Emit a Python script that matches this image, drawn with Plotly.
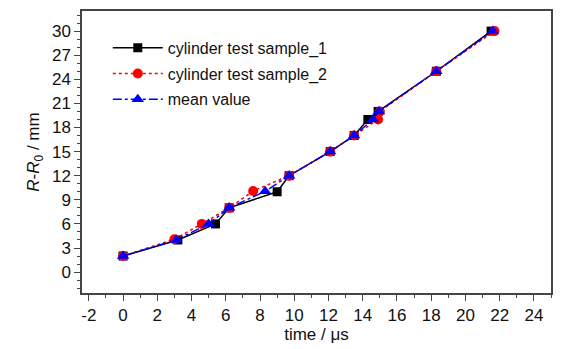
import plotly.graph_objects as go

# Data
s1_x = [0, 3.2, 5.4, 6.2, 9.0, 9.7, 12.1, 13.5, 14.3, 14.9, 18.3, 21.5]
s1_y = [2, 4, 6, 8, 10, 12, 15, 17, 19, 20, 25, 30]
s2_x = [0, 3.0, 4.6, 6.2, 7.6, 9.7, 12.1, 13.5, 14.9, 15.0, 18.3, 21.7]
s2_y = [2, 4.1, 6, 8, 10.1, 12, 15, 17, 19, 20, 25, 30]
m_x = [0, 3.1, 5.0, 6.2, 8.3, 9.7, 12.1, 13.5, 14.6, 14.95, 18.3, 21.6]
m_y = [2, 4, 6, 8, 10.05, 12, 15, 17, 19, 20, 25, 30]

x_ticks = list(range(-2, 25, 2))
x_tick_labels = [str(v) for v in x_ticks]
y_ticks = list(range(0, 31, 3))
y_tick_labels = [str(v) for v in y_ticks]

font_family = "Liberation Sans, Arial, sans-serif"

fig = go.Figure()
fig.add_trace(go.Scatter(x=s1_x, y=s1_y, mode="lines+markers", name="cylinder test sample_1",
                         legendgroup="g1",
                         line=dict(color="black", width=1.5, dash="solid"),
                         marker=dict(symbol="square", size=9, color="black")))
fig.add_trace(go.Scatter(x=s2_x, y=s2_y, mode="lines+markers", name="cylinder test sample_2",
                         legendgroup="g2",
                         line=dict(color="red", width=1.5, dash="dot"),
                         marker=dict(symbol="circle", size=10, color="red")))
fig.add_trace(go.Scatter(x=m_x, y=m_y, mode="lines+markers", name="mean value",
                         legendgroup="g3",
                         line=dict(color="blue", width=1.5, dash="dashdot"),
                         marker=dict(symbol="triangle-up", size=11, color="blue")))

axis_common = dict(showgrid=False, zeroline=False, showline=True, linecolor="#444",
                   linewidth=1.5, mirror=True, ticks="outside", ticklen=6, tickwidth=1.2,
                   tickcolor="#444", automargin=False,
                   tickfont=dict(family=font_family, size=17, color="#111"))

fig.update_xaxes(range=[-2.4, 25], tickvals=x_ticks, ticktext=x_tick_labels,
                 minor=dict(dtick=1, ticks="outside", ticklen=3, tickcolor="#444"),
                 title=dict(text="time / μs", font=dict(family=font_family, size=17, color="#111"), standoff=4),
                 **axis_common)
fig.update_yaxes(range=[-2.6, 32.5], tickvals=y_ticks, ticktext=y_tick_labels,
                 minor=dict(dtick=1, ticks="outside", ticklen=3, tickcolor="#444"),
                 title=dict(text="<i>R</i>-<i>R</i><sub>0</sub> / mm", font=dict(family=font_family, size=17, color="#111"), standoff=8),
                 **axis_common)

fig.update_layout(
    width=571, height=349,
    margin=dict(l=82, r=20, t=11, b=56),
    paper_bgcolor="white", plot_bgcolor="white",
    showlegend=True,
    legend=dict(x=0.055, y=0.93, xanchor="left", yanchor="top",
                bgcolor="rgba(255,255,255,0)",
                font=dict(family=font_family, size=16, color="#111"),
                tracegroupgap=2, itemwidth=50),
)

fig.write_html("out.html")
